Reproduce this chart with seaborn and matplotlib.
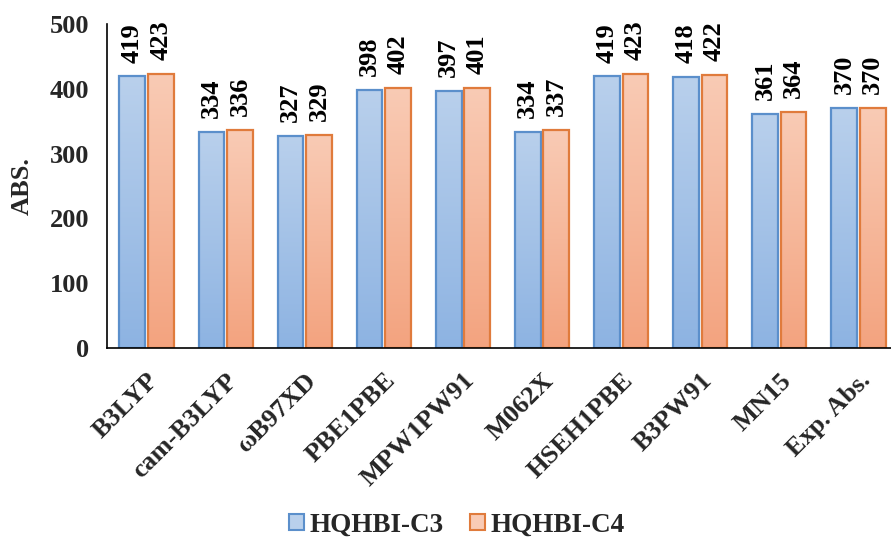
import numpy as np
import pandas as pd
import matplotlib
matplotlib.use("Agg")
import matplotlib.pyplot as plt
from matplotlib.colors import LinearSegmentedColormap
from matplotlib.patches import Patch
import seaborn as sns

methods = ["B3LYP", "cam-B3LYP", "ωB97XD", "PBE1PBE", "MPW1PW91",
           "M062X", "HSEH1PBE", "B3PW91", "MN15", "Exp. Abs."]
c3_values = [419, 334, 327, 398, 397, 334, 419, 418, 361, 370]
c4_values = [423, 336, 329, 402, 401, 337, 423, 422, 364, 370]
series_names = ["HQHBI-C3", "HQHBI-C4"]
y_ticks = [0, 100, 200, 300, 400, 500]

df = pd.DataFrame({
    "method": methods * 2,
    "value": c3_values + c4_values,
    "series": [series_names[0]] * len(methods) + [series_names[1]] * len(methods),
})

sns.set_theme(style="white")
plt.rcParams["font.family"] = ["Liberation Serif", "DejaVu Serif"]
plt.rcParams["font.weight"] = "bold"

edge_colors = {"HQHBI-C3": "#5B8FCB", "HQHBI-C4": "#E07B3C"}
top_colors = {"HQHBI-C3": "#B9D0EC", "HQHBI-C4": "#F9CBB5"}
bottom_colors = {"HQHBI-C3": "#8DB3E2", "HQHBI-C4": "#F3A37F"}

fig = plt.figure(figsize=(8.91, 5.46), dpi=100)
ax = fig.add_axes([107 / 891, 1 - 348 / 546, 791 / 891, (348 - 24) / 546])

sns.barplot(data=df, x="method", y="value", hue="series", order=methods,
            hue_order=series_names, width=0.72, gap=0.1,
            palette=[bottom_colors[s] for s in series_names],
            linewidth=1.6, edgecolor="none", legend=False, ax=ax)

# Vertical gradient fill inside every bar, outline kept on top
for container, name in zip(ax.containers, series_names):
    cmap = LinearSegmentedColormap.from_list(name, [bottom_colors[name], top_colors[name]])
    grad = np.linspace(0, 1, 256).reshape(-1, 1)
    for bar in container:
        x0, w, h = bar.get_x(), bar.get_width(), bar.get_height()
        im = ax.imshow(grad, extent=[x0, x0 + w, 0, h], origin="lower",
                       aspect="auto", cmap=cmap, zorder=1)
        im.set_clip_path(bar)
        bar.set_facecolor("none")
        bar.set_edgecolor(edge_colors[name])
        bar.set_zorder(2)
    ax.bar_label(container, labels=[str(int(b.get_height())) for b in container],
                 rotation=90, padding=10, fontsize=19, fontweight="bold", color="black")

ax.set_xlim(-0.5, len(methods) - 0.5)
ax.set_ylim(0, 500)
ax.set_yticks(y_ticks)
ax.set_yticklabels([str(t) for t in y_ticks], fontsize=19, fontweight="bold")
ax.set_xticks(range(len(methods)))
ax.set_xticklabels(methods, rotation=45, ha="right", rotation_mode="anchor",
                   fontsize=19, fontweight="bold")
ax.tick_params(axis="x", length=0, pad=15)
ax.tick_params(axis="y", length=0, pad=13)
ax.set_xlabel("")
ax.set_ylabel("ABS.", fontsize=19, fontweight="bold", labelpad=11)

for side in ["top", "right"]:
    ax.spines[side].set_visible(False)
for side in ["left", "bottom"]:
    ax.spines[side].set_color("black")
    ax.spines[side].set_linewidth(1.2)

handles = [Patch(facecolor=top_colors[s], edgecolor=edge_colors[s], linewidth=1.5)
           for s in series_names]
fig.legend(handles, series_names, loc="center", bbox_to_anchor=(457 / 891, 1 - 525 / 546),
           ncol=2, frameon=False, prop={"size": 19.5, "weight": "bold"},
           handlelength=0.55, handleheight=0.55, handletextpad=0.2, columnspacing=1.0)

fig.savefig("out.png", dpi=100)
